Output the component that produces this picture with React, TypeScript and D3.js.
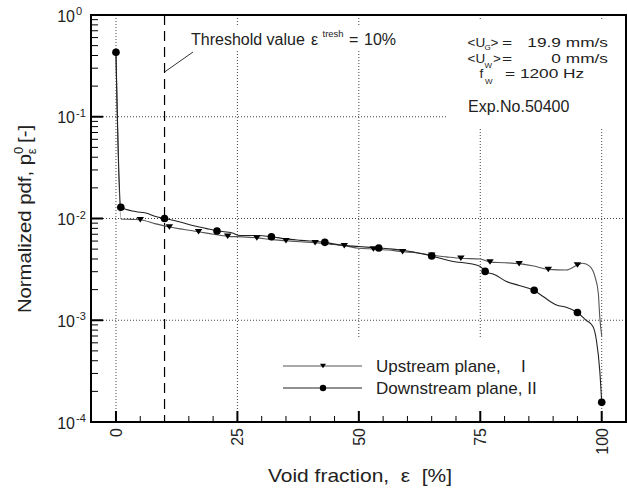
import React from "react";
import * as d3 from "d3";

// ---- data ----
const upLineX = [0, 1, 3, 5, 8, 11, 14, 17, 20, 23, 26, 29, 32, 35, 38, 41, 44, 47, 50, 53, 56, 59, 62, 65, 68, 71, 75, 77, 80, 83, 86, 89, 92.7, 95, 96.1, 97.5, 98.6, 99.3, 99.6, 100];
const upLineY = [0.42, 0.0099, 0.0098, 0.00973, 0.0089, 0.00824, 0.0078, 0.00741, 0.0070, 0.00668, 0.0066, 0.00645, 0.0062, 0.00605, 0.0059, 0.00578, 0.0056, 0.0054, 0.0051, 0.00501, 0.0049, 0.00472, 0.0046, 0.00435, 0.0042, 0.00407, 0.0040, 0.00373, 0.00368, 0.0036, 0.00341, 0.00316, 0.00312, 0.00349, 0.00363, 0.0034, 0.0027, 0.00184, 0.00108, 0.0007];
const upMarkX = [5, 11, 17, 23, 29, 35, 41, 47, 53, 59, 65, 71, 77, 83, 89, 95];
const upMarkY = [0.00973, 0.00824, 0.00741, 0.00668, 0.00645, 0.00605, 0.00578, 0.0054, 0.00501, 0.00472, 0.00435, 0.00407, 0.00373, 0.0036, 0.00316, 0.00349];

const downLineX = [0, 1, 4, 6.5, 8, 10, 13, 16, 18.5, 21, 24, 25.5, 28, 32, 35, 38, 43, 46, 50, 54, 57, 60, 63, 65, 68.7, 74.9, 76, 78, 80.4, 83, 86, 88, 90.7, 92.7, 95, 96.8, 98.2, 98.9, 99.6, 100];
const downLineY = [0.43, 0.0129, 0.0117, 0.0112, 0.0105, 0.0100, 0.0093, 0.0085, 0.0080, 0.00753, 0.0072, 0.0068, 0.0068, 0.00662, 0.0063, 0.0061, 0.00583, 0.0055, 0.0053, 0.00513, 0.0050, 0.0048, 0.0045, 0.00428, 0.00385, 0.0034, 0.00302, 0.0028, 0.0024, 0.0022, 0.00197, 0.0017, 0.00141, 0.00134, 0.00119, 0.0010, 0.00087, 0.00064, 0.00032, 0.000156];
const downMarkX = [0, 1, 10, 20.8, 32, 43, 54.1, 65, 76, 86.1, 95, 100];
const downMarkY = [0.43, 0.0129, 0.0100, 0.00753, 0.00662, 0.00583, 0.00513, 0.00428, 0.00302, 0.00197, 0.00119, 0.000156];

const xMajorTicks = [0, 25, 50, 75, 100];
const xTickLabels = ["0", "25", "50", "75", "100"];
const yDecades = [1, 0.1, 0.01, 0.001, 0.0001];
const yExponents = ["0", "-1", "-2", "-3", "-4"];
const thresholdValue = 10;
const legendLabels = ["Upstream plane,", "Downstream plane, II"];

// ---- layout ----
const W = 628, H = 491;
const L = 91, R = 626, T = 15, B = 422;
const FONT = "'Liberation Sans', Arial, Helvetica, sans-serif";

export default function App() {
  const x = d3.scaleLinear().domain([-5.14, 105]).range([L, R]);
  const y = d3.scaleLog().domain([1e-4, 1]).range([B, T]);

  const line = d3.line<[number, number]>()
    .x((d) => x(d[0]))
    .y((d) => y(d[1]))
    .curve(d3.curveMonotoneX);

  const upPts: [number, number][] = upLineX.map((v, i) => [v, upLineY[i]]);
  const downPts: [number, number][] = downLineX.map((v, i) => [v, downLineY[i]]);

  const minorY: number[] = [];
  for (let e = -4; e < 0; e++) for (let k = 2; k <= 9; k++) minorY.push(k * Math.pow(10, e));
  const minorX: number[] = d3.range(5, 100, 5).filter((v) => v % 25 !== 0);

  const tri = (cx: number, cy: number, w: number, h: number) =>
    `M${cx - w / 2},${cy - h / 2}L${cx + w / 2},${cy - h / 2}L${cx},${cy + h / 2}Z`;

  const grid = { stroke: "#444", strokeWidth: 1, strokeDasharray: "1,2" };

  const upColor = "#555";
  const downColor = "#222";
  const txt = "#222";

  return (
    <svg width={W} height={H} style={{ position: "absolute", left: 0, top: 0, display: "block", background: "#fff" }} fontFamily={FONT}>
      {/* grid */}
      {xMajorTicks.map((v) => (
        <line key={"gx" + v} x1={x(v)} x2={x(v)} y1={T} y2={B} {...grid} />
      ))}
      {yDecades.slice(1, 4).map((v) => (
        <line key={"gy" + v} x1={L} x2={R} y1={y(v)} y2={y(v)} {...grid} />
      ))}

      {/* white label backgrounds */}
      <rect x={186} y={27} width={212} height={22} fill="#fff" />
      <rect x={448} y={19} width={176} height={109} fill="#fff" />
      <rect x={270} y={338} width={290} height={82} fill="#fff" />

      {/* threshold */}
      <line x1={x(thresholdValue)} x2={x(thresholdValue)} y1={T} y2={B} stroke="#000" strokeWidth={1.2} strokeDasharray="10,6" />
      <line x1={x(thresholdValue)} y1={72} x2={193} y2={52} stroke="#000" strokeWidth={0.8} />
      <g fill={txt}>
        <text x={191} y={44.5} fontSize={16}>Threshold value</text>
        <text x={311} y={44.5} fontSize={16}>ε</text>
        <text x={322.5} y={36.5} fontSize={9.5}>tresh</text>
        <text x={349} y={44.5} fontSize={16}>=</text>
        <text x={364} y={44.5} fontSize={16}>10%</text>
      </g>

      {/* curves */}
      <path d={line(upPts) || ""} fill="none" stroke={upColor} strokeWidth={1.1} />
      <path d={line(downPts) || ""} fill="none" stroke={downColor} strokeWidth={1.1} />
      {upMarkX.map((v, i) => (
        <path key={"um" + i} d={tri(x(v), y(upMarkY[i]), 7.5, 5.5)} fill="#000" />
      ))}
      {downMarkX.map((v, i) => (
        <circle key={"dm" + i} cx={x(v)} cy={y(downMarkY[i])} r={3.8} fill="#000" />
      ))}

      {/* ticks */}
      {yDecades.map((v) => (
        <line key={"yt" + v} x1={L} x2={L + 12} y1={y(v)} y2={y(v)} stroke="#000" strokeWidth={2} />
      ))}
      {minorY.map((v) => (
        <line key={"ym" + v} x1={L} x2={L + 7} y1={y(v)} y2={y(v)} stroke="#000" strokeWidth={1} />
      ))}
      {xMajorTicks.map((v) => (
        <line key={"xt" + v} x1={x(v)} x2={x(v)} y1={B} y2={B - 11} stroke="#000" strokeWidth={2} />
      ))}
      {minorX.map((v) => (
        <line key={"xm" + v} x1={x(v)} x2={x(v)} y1={B} y2={B - 6} stroke="#000" strokeWidth={1} />
      ))}

      {/* frame */}
      <rect x={L} y={T} width={R - L} height={B - T} fill="none" stroke="#000" strokeWidth={2} />

      {/* y tick labels */}
      {yDecades.map((v, i) => (
        <g key={"yl" + v} fill={txt}>
          <text x={75} y={y(v) + 6.5} fontSize={16} textAnchor="end">10</text>
          <text x={76} y={y(v)} fontSize={11}>{yExponents[i]}</text>
        </g>
      ))}

      {/* x tick labels */}
      {xMajorTicks.map((v, i) => (
        <text key={"xl" + v} transform={`translate(${x(v) + 6},428) rotate(-90)`} fontSize={16} textAnchor="end" fill={txt}>
          {xTickLabels[i]}
        </text>
      ))}

      {/* axis titles */}
      <text x={268} y={481.5} fontSize={19} fill={txt} textLength={184} lengthAdjust="spacingAndGlyphs" xmlSpace="preserve" style={{ whiteSpace: "pre" }}>
        {"Void fraction,  ε  [%]"}
      </text>
      <g transform="translate(31,219) rotate(-90) scale(1.07,1)">
        <text x={0} y={0} fontSize={19} textAnchor="middle" fill={txt} xmlSpace="preserve" style={{ whiteSpace: "pre" }}>
          {"Normalized pdf, p"}
          <tspan fontSize={12} dy={-8}>0</tspan>
          <tspan fontSize={12} dx={-7} dy={13}>ε</tspan>
          <tspan dy={-5}>{" [-]"}</tspan>
        </text>
      </g>

      {/* parameter annotation */}
      <g fill={txt} fontSize={13.5}>
        <text x={467.5} y={46.5}>&lt;U</text>
        <text x={484.5} y={50} fontSize={8}>G</text>
        <text x={490.5} y={46.5}>&gt;</text>
        <g transform="translate(502,46.5) scale(1.28,1)"><text>=</text></g>
        <g transform="translate(608,46.5) scale(1.28,1)"><text textAnchor="end">19.9 mm/s</text></g>

        <text x={467.5} y={62.5}>&lt;U</text>
        <text x={484.5} y={67.5} fontSize={8}>W</text>
        <text x={493} y={62.5}>&gt;</text>
        <g transform="translate(502,62.5) scale(1.28,1)"><text>=</text></g>
        <g transform="translate(608,62.5) scale(1.28,1)"><text textAnchor="end">0 mm/s</text></g>

        <text x={479.5} y={78}>f</text>
        <text x={485} y={84} fontSize={8}>W</text>
        <g transform="translate(505,78) scale(1.28,1)"><text>= 1200 Hz</text></g>
      </g>
      <text x={468} y={111.5} fontSize={16} fill={txt}>Exp.No.50400</text>

      {/* legend */}
      <line x1={283} x2={362} y1={366} y2={366} stroke={upColor} strokeWidth={1.1} />
      <path d={tri(323, 366, 6, 4.5)} fill="#000" />
      <text x={376} y={372} fontSize={17} fill={txt}>{legendLabels[0]}</text>
      <text x={521} y={372} fontSize={17} fill={txt}>I</text>
      <line x1={283} x2={362} y1={388} y2={388} stroke={downColor} strokeWidth={1.1} />
      <circle cx={323} cy={388} r={3.2} fill="#000" />
      <text x={376} y={394} fontSize={17} fill={txt}>{legendLabels[1]}</text>
    </svg>
  );
}
